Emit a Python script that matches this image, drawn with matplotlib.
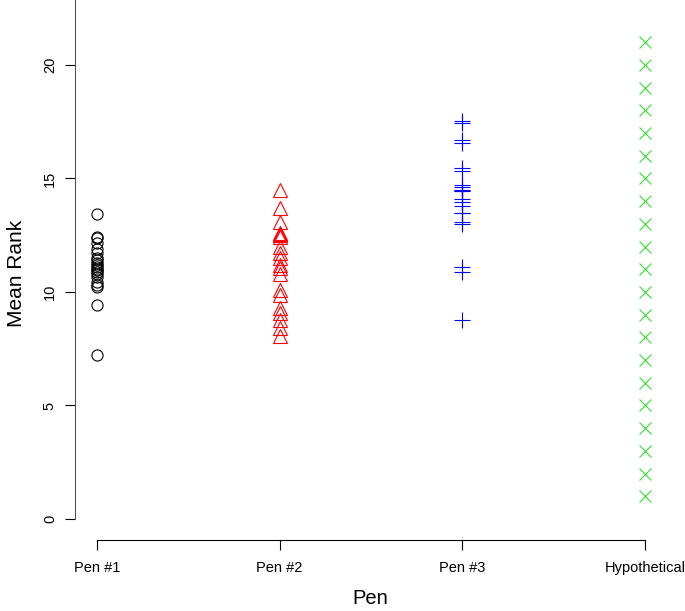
import matplotlib
matplotlib.use("Agg")
import matplotlib.pyplot as plt

plt.rcParams['font.family'] = ['Liberation Sans', 'DejaVu Sans']

# mean ranks per pen
pen_labels = ["Pen #1", "Pen #2", "Pen #3", "Hypothetical"]
pen1 = [13.45, 12.4, 12.36, 12.14, 11.9, 11.7, 11.5, 11.4, 11.27, 11.2, 11.1,
        11.0, 10.97, 10.9, 10.8, 10.67, 10.45, 10.3, 10.23, 9.43, 7.22]
pen2 = [14.5, 13.7, 13.1, 12.6, 12.55, 12.5, 12.4, 12.0, 11.7, 11.5, 11.2,
        11.05, 10.8, 10.1, 9.87, 9.3, 9.07, 8.77, 8.4, 8.07]
pen3 = [17.55, 17.43, 16.7, 16.58, 15.45, 15.33, 14.71, 14.61, 14.5, 14.46,
        14.46, 14.08, 13.98, 13.79, 13.5, 13.47, 13.1, 13.0, 11.1, 10.9, 8.77]
hypothetical = [1, 2, 3, 4, 5, 6, 7, 8, 9, 10, 11, 12, 13, 14, 15, 16, 17,
                18, 19, 20, 21]

fig = plt.figure(figsize=(6.85, 6.11), dpi=100)
ax = fig.add_axes([75 / 685, 1 - 540 / 611, 592 / 685, 540 / 611])

ax.plot([1] * len(pen1), pen1, ls="none", marker="o", mfc="none",
        mec="black", ms=8, mew=0.8)
ax.plot([2] * len(pen2), pen2, ls="none", marker="^", mfc="none",
        mec="#ff0000", ms=10, mew=0.8)
ax.plot([3] * len(pen3), pen3, ls="none", marker="+", color="#0000ff",
        ms=11, mew=0.8)
ax.plot([4] * len(hypothetical), hypothetical, ls="none", marker="x",
        color="#33dd33", ms=8, mew=0.8)

ax.set_xlim(0.88, 4.12)
ax.set_ylim(-0.925, 22.86)

ax.spines["top"].set_visible(False)
ax.spines["right"].set_visible(False)
ax.spines["left"].set_bounds(0, 22.86)
ax.spines["bottom"].set_bounds(1, 4)
ax.spines["left"].set_linewidth(0.8)
ax.spines["bottom"].set_linewidth(0.8)
ax.spines["left"].set_color("#555555")

ax.set_xticks([1, 2, 3, 4])
ax.set_xticklabels(pen_labels)
ax.set_yticks([0, 5, 10, 15, 20])
ax.set_yticklabels(["0", "5", "10", "15", "20"], rotation=90, va="center")
ax.tick_params(axis="both", labelsize=10.5, length=7, width=0.8, pad=8)
ax.tick_params(axis="y", pad=6)

fig.text(17 / 685, 1 - 273 / 611, "Mean Rank", fontsize=15, rotation=90,
         ha="center", va="center")
fig.text(370 / 685, 1 - 598 / 611, "Pen", fontsize=14.5,
         ha="center", va="center")

fig.savefig("out.png", dpi=100)
